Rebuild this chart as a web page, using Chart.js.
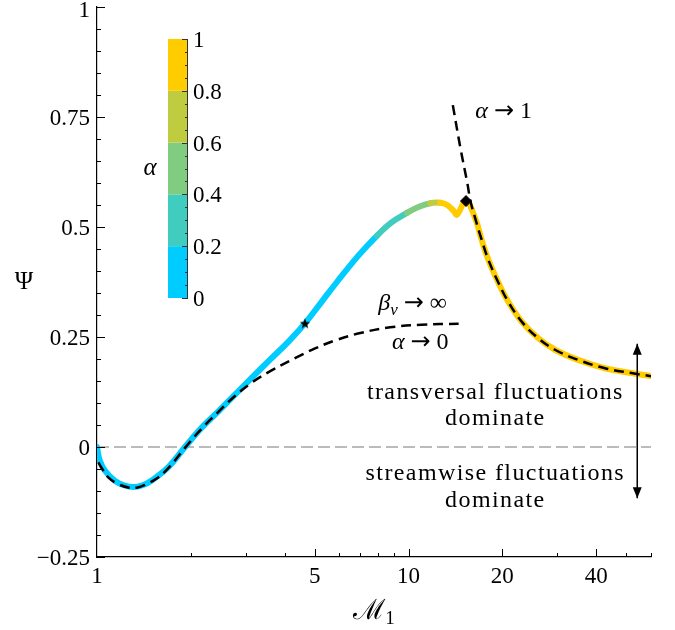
<!DOCTYPE html>
<html lang="en">
<head>
<meta charset="UTF-8">
<title>Psi vs M1</title>
<script src="https://cdn.jsdelivr.net/npm/chart.js"></script>
<style>
  html, body { margin: 0; padding: 0; background: #fff; }
</style>
</head>
<body>
<canvas id="psiChart" width="675" height="630"></canvas>
<script>
// main curve, coloured by alpha
var mainM     = [1, 1.02, 1.061, 1.142, 1.22, 1.307, 1.40, 1.498, 1.694, 1.916, 2.168, 2.453, 2.772, 3.135, 3.634, 4.111, 4.65, 5.26, 5.89, 6.9, 7.91, 8.8, 9.88, 10.8, 11.74, 12.64, 13.3, 13.98, 14.3, 15.29, 16.36, 17.13, 17.98, 19.38, 20.9, 23.07, 26.1, 29.5, 35.0, 42.7, 51.9, 60];
var mainPsi   = [0, -0.03, -0.054, -0.077, -0.087, -0.091, -0.087, -0.076, -0.046, 0, 0.044, 0.081, 0.119, 0.157, 0.202, 0.239, 0.281, 0.330, 0.375, 0.435, 0.48, 0.51, 0.532, 0.546, 0.554, 0.555, 0.55, 0.536, 0.528, 0.559, 0.52, 0.473, 0.428, 0.375, 0.330, 0.285, 0.247, 0.221, 0.198, 0.179, 0.168, 0.161];
var mainAlpha = [0, 0, 0.01, 0.01, 0.01, 0.02, 0.02, 0.02, 0.03, 0.03, 0.04, 0.04, 0.05, 0.05, 0.06, 0.07, 0.08, 0.09, 0.11, 0.15, 0.20, 0.30, 0.40, 0.50, 0.60, 0.80, 0.85, 0.88, 0.90, 0.93, 0.95, 0.96, 0.97, 0.97, 0.98, 0.98, 0.99, 0.99, 0.99, 1, 1, 1];

// limit alpha -> 0 (beta_v -> inf)
var lowM   = [1.01, 1.04, 1.087, 1.16, 1.26, 1.35, 1.426, 1.55, 1.694, 1.916, 2.168, 2.453, 2.772, 3.135, 3.634, 4.32, 5.01, 5.81, 7.0, 8.73, 11.0, 14.48];
var lowPsi = [-0.035, -0.05, -0.069, -0.083, -0.092, -0.092, -0.086, -0.072, -0.048, -0.002, 0.042, 0.08, 0.116, 0.146, 0.174, 0.202, 0.224, 0.242, 0.259, 0.272, 0.278, 0.280];

// limit alpha -> 1
var highM   = [13.87, 14.7, 15.43, 15.8, 16.36, 17.13, 17.98, 19.38, 20.9, 23.07, 26.1, 29.5, 35.0, 42.7, 51.9, 60];
var highPsi = [0.777, 0.676, 0.601, 0.559, 0.52, 0.473, 0.428, 0.375, 0.330, 0.285, 0.247, 0.221, 0.198, 0.179, 0.168, 0.161];

var starM = [4.65], starPsi = [0.281];
var diamondM = [15.29], diamondPsi = [0.559];
var arrowM = [54.2, 54.2], arrowPsi = [0.2345, -0.1163];
var zeroM = [1, 60], zeroPsi = [0, 0];

var xLabelTicks = [1, 5, 10, 20, 40];
var xMajorTicks = [5, 10, 20, 40];
var xMinorTicks = [2, 3, 4, 6, 7, 8, 9, 30, 50, 60];
var yLabelTicks = [-0.25, 0, 0.25, 0.5, 0.75, 1];
var yTickText = ['\u22120.25', '0', '0.25', '0.5', '0.75', '1'];
var cbTicks = [0, 0.2, 0.4, 0.6, 0.8, 1];
var cbTickText = ['0', '0.2', '0.4', '0.6', '0.8', '1'];
var cbColors = ['#00ccff', '#40ccbf', '#80cc80', '#bfcc40', '#ffcc00'];

var ARROW = ['\u2192', 24, false, 0, '"DejaVu Sans"'];
// text notes: [M, Psi(baseline), align, parts]
var notes = [
  [16.38, 0.748, 'left', [['\u03b1 ', 24, true], ARROW, [' 1', 24, false]]],
  [7.99, 0.312, 'left', [['\u03b2', 24, true], ['v', 17, true, 5], [' ', 24, false], ARROW, [' \u221e', 24, false]]],
  [8.84, 0.222, 'left', [['\u03b1 ', 24, true], ARROW, [' 0', 24, false]]],
  [18.99, 0.109, 'center', [['transversal fluctuations', 24, false]]],
  [18.99, 0.049, 'center', [['dominate', 24, false]]],
  [18.99, -0.075, 'center', [['streamwise fluctuations', 24, false]]],
  [18.99, -0.137, 'center', [['dominate', 24, false]]]
];

var SERIF = '"Liberation Serif", "DejaVu Serif", serif';
function fnt(size, italic, fam) { return (italic ? 'italic ' : '') + size + 'px ' + (fam || SERIF); }

function pts(xs, ys) { return xs.map(function (x, i) { return { x: x, y: ys[i] }; }); }

function bandColor(a) { return cbColors[Math.min(4, Math.floor(a / 0.2 + 1e-9))]; }

function drawRich(ctx, parts, x, y, align, spacing) {
  ctx.letterSpacing = spacing || '0px';
  var w = 0;
  parts.forEach(function (p) { ctx.font = fnt(p[1], p[2], p[4]); w += ctx.measureText(p[0]).width; });
  var cx = align === 'center' ? x - w / 2 : (align === 'right' ? x - w : x);
  ctx.textAlign = 'left';
  ctx.textBaseline = 'alphabetic';
  parts.forEach(function (p) {
    ctx.font = fnt(p[1], p[2], p[4]);
    ctx.fillText(p[0], cx, y + (p[3] || 0));
    cx += ctx.measureText(p[0]).width;
  });
  ctx.letterSpacing = '0px';
}

// filled star for the marker
var starImg = document.createElement('canvas');
starImg.width = 12; starImg.height = 12;
(function () {
  var c = starImg.getContext('2d');
  c.beginPath();
  for (var i = 0; i < 10; i++) {
    var r = i % 2 === 0 ? 5.5 : 2.3;
    var ang = -Math.PI / 2 + i * Math.PI / 5;
    var px = 6 + r * Math.cos(ang), py = 6.5 + r * Math.sin(ang);
    if (i === 0) c.moveTo(px, py); else c.lineTo(px, py);
  }
  c.closePath();
  c.fillStyle = '#000';
  c.fill();
})();

var decor = {
  id: 'decor',
  afterDraw: function (chart) {
    var ctx = chart.ctx, xs = chart.scales.x, ys = chart.scales.y, a = chart.chartArea;
    ctx.save();
    ctx.strokeStyle = '#000';
    ctx.fillStyle = '#000';
    ctx.lineWidth = 1;

    // y axis ticks, pointing inwards
    for (var i = 0; i <= 25; i++) {
      var v = -0.25 + i * 0.05;
      var py = Math.round(ys.getPixelForValue(v)) + 0.5;
      var len = i % 5 === 0 ? 8 : 4;
      ctx.beginPath(); ctx.moveTo(a.left, py); ctx.lineTo(a.left + len, py); ctx.stroke();
    }
    // x axis ticks
    xMajorTicks.concat(xMinorTicks).forEach(function (m) {
      var px = Math.round(xs.getPixelForValue(m)) + 0.5;
      var len = xMajorTicks.indexOf(m) >= 0 ? 8 : 4;
      ctx.beginPath(); ctx.moveTo(px, a.bottom); ctx.lineTo(px, a.bottom - len); ctx.stroke();
    });

    // tick labels
    ctx.font = fnt(23, false);
    ctx.textAlign = 'right';
    ctx.textBaseline = 'alphabetic';
    yLabelTicks.forEach(function (v, k) {
      var py = ys.getPixelForValue(v) + 8;
      if (v === 1) py = 17;
      ctx.fillText(yTickText[k], 90, py);
    });
    ctx.textAlign = 'center';
    xLabelTicks.forEach(function (m) {
      ctx.fillText(String(m), xs.getPixelForValue(m), 583);
    });

    // axis titles
    ctx.font = '25px ' + SERIF;
    ctx.textBaseline = 'middle';
    ctx.fillText('\u03a8', 24, 282);
    drawRich(ctx, [['\u2133', 28, false], ['1', 19, false, 5]], (a.left + a.right) / 2, 619, 'center');

    // annotations
    notes.forEach(function (n) {
      var sp = n[3].length === 1 ? '1.4px' : '0px';
      drawRich(ctx, n[3], xs.getPixelForValue(n[0]), ys.getPixelForValue(n[1]), n[2], sp);
    });

    // double arrow heads
    var ax = xs.getPixelForValue(arrowM[0]);
    var yTop = ys.getPixelForValue(arrowPsi[0]), yBot = ys.getPixelForValue(arrowPsi[1]);
    ctx.beginPath(); ctx.moveTo(ax, yTop); ctx.lineTo(ax - 4.5, yTop + 11); ctx.lineTo(ax + 4.5, yTop + 11); ctx.closePath(); ctx.fill();
    ctx.beginPath(); ctx.moveTo(ax, yBot); ctx.lineTo(ax - 4.5, yBot - 11); ctx.lineTo(ax + 4.5, yBot - 11); ctx.closePath(); ctx.fill();

    // colour bar
    var cbL = 168, cbR = 188, cbT = 39, cbB = 298;
    function cbY(v) { return cbB - v * (cbB - cbT); }
    for (var b = 0; b < 5; b++) {
      ctx.fillStyle = cbColors[b];
      ctx.fillRect(cbL, cbY((b + 1) * 0.2), cbR - cbL, cbY(b * 0.2) - cbY((b + 1) * 0.2));
    }
    ctx.fillStyle = '#000';
    ctx.strokeStyle = '#333';
    ctx.beginPath(); ctx.moveTo(cbR - 0.5, cbT); ctx.lineTo(cbR - 0.5, cbB); ctx.stroke();
    for (var j = 0; j <= 20; j++) {
      var ty = Math.round(cbY(j * 0.05)) + 0.5;
      var tl = j % 4 === 0 ? 6 : 3;
      ctx.beginPath(); ctx.moveTo(cbR, ty); ctx.lineTo(cbR - tl, ty); ctx.stroke();
    }
    ctx.font = fnt(23, false);
    ctx.textAlign = 'left';
    ctx.textBaseline = 'alphabetic';
    cbTicks.forEach(function (v, k) { ctx.fillText(cbTickText[k], 193, cbY(v) + 8); });
    ctx.font = fnt(25, true);
    ctx.textAlign = 'center';
    ctx.textBaseline = 'middle';
    ctx.fillText('\u03b1', 150, 168);

    ctx.restore();
  }
};

var dashedBase = {
  borderColor: '#000',
  borderWidth: 2.5,
  borderDash: [10, 6],
  pointRadius: 0,
  fill: false,
  tension: 0.4
};

var config = {
  type: 'line',
  data: {
    datasets: [
      { label: 'star', data: pts(starM, starPsi), showLine: false, pointStyle: starImg, pointRadius: 6, order: 0 },
      { label: 'diamond', data: pts(diamondM, diamondPsi), showLine: false, pointStyle: 'rectRot', pointRadius: 5.5,
        pointBackgroundColor: '#000', pointBorderColor: '#000', order: 1 },
      Object.assign({}, dashedBase, { label: 'alpha to 1', data: pts(highM, highPsi), order: 2 }),
      Object.assign({}, dashedBase, { label: 'alpha to 0', data: pts(lowM, lowPsi), order: 3 }),
      { label: 'arrow', data: pts(arrowM, arrowPsi), borderColor: '#000', borderWidth: 1.5, pointRadius: 0, order: 4 },
      { label: 'Psi', data: pts(mainM, mainPsi), borderWidth: 6, pointRadius: 0, order: 5,
        borderColor: cbColors[0], borderCapStyle: 'round', borderJoinStyle: 'round',
        tension: 0.4,
        segment: {
          borderColor: function (c) {
            return bandColor((mainAlpha[c.p0DataIndex] + mainAlpha[c.p1DataIndex]) / 2);
          }
        } },
      { label: 'zero', data: pts(zeroM, zeroPsi), borderColor: '#bbbbbb', borderWidth: 2, borderDash: [12, 5],
        pointRadius: 0, order: 6 }
    ]
  },
  options: {
    responsive: false,
    animation: false,
    events: [],
    layout: { padding: { left: 0, top: 3, right: 24, bottom: 0 } },
    plugins: { legend: { display: false }, tooltip: { enabled: false } },
    scales: {
      x: {
        type: 'logarithmic',
        min: 1,
        max: 60,
        ticks: { display: false },
        grid: { display: false },
        border: { display: true, color: '#000', width: 1.2 },
        afterFit: function (s) { s.height = 73; }
      },
      y: {
        type: 'linear',
        min: -0.25,
        max: 1,
        ticks: { display: false },
        grid: { display: false },
        border: { display: true, color: '#000', width: 1.2 },
        afterFit: function (s) { s.width = 97; }
      }
    }
  },
  plugins: [decor]
};

var myChart = new Chart(document.getElementById('psiChart'), config);
</script>
</body>
</html>
